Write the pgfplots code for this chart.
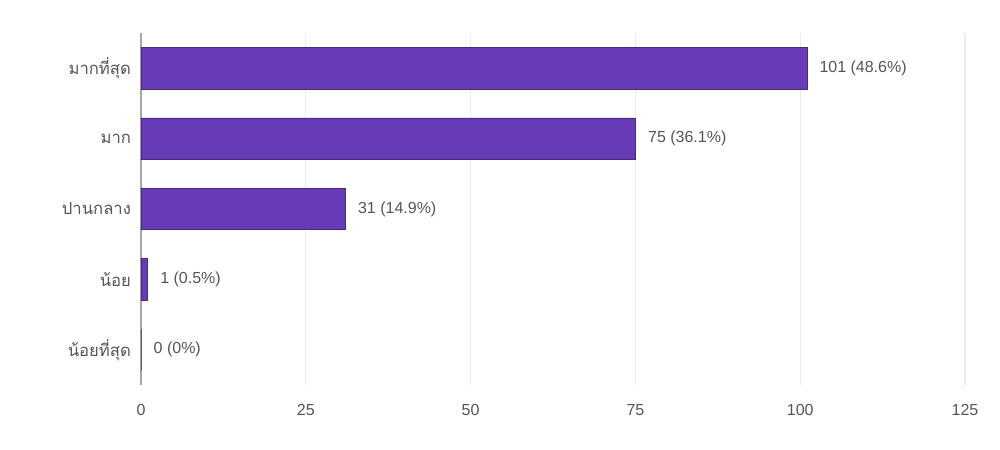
\documentclass[border=0pt]{standalone}
\usepackage{fontspec}
\setmainfont{Liberation Sans}
\newfontfamily\thaifont[Script=Thai]{Loma}
\usepackage{pgfplots}
\pgfplotsset{compat=1.18}
\definecolor{barpurple}{HTML}{673AB7}
\definecolor{gridgray}{HTML}{EBEBEB}
\definecolor{txtgray}{HTML}{555555}
\begin{document}
\begin{tikzpicture}[x=1pt,y=1pt]
\useasboundingbox (0,0) rectangle (750,337.5);
\begin{axis}[
  at={(105.75pt,48.75pt)}, anchor=south west,
  scale only axis, width=618pt, height=264pt,
  xbar, bar width=31pt,
  xmin=0, xmax=125, ymin=-0.5, ymax=4.5,
  xtick={0,25,50,75,100,125},
  ytick={0,1,2,3,4},
  yticklabels={น้อยที่สุด,น้อย,ปานกลาง,มาก,มากที่สุด},
  yticklabel style={font=\thaifont\fontsize{12.5}{14}\selectfont, text=txtgray, xshift=-4pt},
  xticklabel style={font=\fontsize{12}{14}\selectfont, text=txtgray},
  /pgf/number format/assume math mode=true,
  axis line style={draw=none},
  axis x line*=bottom, axis y line*=left,
  xmajorgrids, grid style={gridgray, line width=0.8pt},
  major tick length=0pt,
  xtick pos=bottom, ytick pos=left,
  xticklabel shift=11pt,
  nodes near coords, point meta=explicit symbolic,
  nodes near coords style={font=\fontsize{12}{14}\selectfont, text=txtgray, anchor=west, xshift=6pt},
  clip=false,
]
\draw[gray!70, line width=1pt] (axis cs:0,-0.5) -- (axis cs:0,4.5);
\addplot[fill=barpurple, draw=barpurple!70!black] coordinates {
  (101,4) [101 (48.6\%)]
  (75,3) [75 (36.1\%)]
  (31,2) [31 (14.9\%)]
  (1,1) [1 (0.5\%)]
  (0,0) [0 (0\%)]
};
\end{axis}
\end{tikzpicture}
\end{document}
